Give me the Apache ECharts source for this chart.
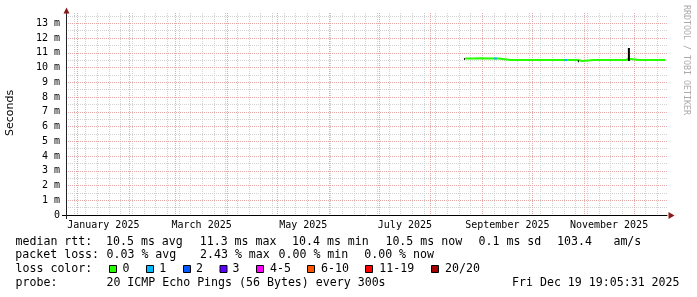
<!DOCTYPE html>
<html><head><meta charset="utf-8">
<script src="https://cdn.jsdelivr.net/npm/echarts@6/dist/echarts.min.js"></script>
<style>html,body{margin:0;padding:0;background:#fff}#c{width:697px;height:297px}</style>
</head><body><div id="c"></div>
<script>
// ---- axis ranges / ticks ----
const xStartStr = '2024-12-25T02:24Z';
const xEndStr = '2025-12-20T19:00Z';
const monthStarts = ['2025-01-01','2025-02-01','2025-03-01','2025-04-01','2025-05-01','2025-06-01',
  '2025-07-01','2025-08-01','2025-09-01','2025-10-01','2025-11-01','2025-12-01'];
const labelDates = ['2025-01-16T12:00Z','2025-03-16T12:00Z','2025-05-16T12:00Z','2025-07-16T12:00Z','2025-09-16T00:00Z','2025-11-16T00:00Z'];
const labelTexts = ['January 2025','March 2025','May 2025','July 2025','September 2025','November 2025'];
const yMax = 13.7;

// ---- median rtt (ms), loss 0 (green) ----
const medianDates = ['2025-08-21T12:00Z','2025-08-26','2025-08-31','2025-09-05','2025-09-10T20:00Z','2025-09-10T23:00Z',
  '2025-09-18','2025-09-26','2025-10-04','2025-10-12','2025-10-20','2025-10-28T06:00Z','2025-10-28T22:00Z',
  '2025-10-30T20:00Z','2025-10-30T23:00Z','2025-11-07','2025-11-15','2025-11-22','2025-11-26T12:00Z','2025-11-26T15:00Z',
  '2025-11-27T18:00Z','2025-11-28T02:00Z','2025-12-04','2025-12-11','2025-12-19T19:00Z'];
const medianValues = [10.62,10.62,10.63,10.62,10.62,10.51,
  10.51,10.51,10.52,10.51,10.51,10.51,10.44,
  10.44,10.51,10.51,10.52,10.51,10.52,10.60,
  10.60,10.51,10.51,10.51,10.51];

// ---- loss 1 (blue) ----
const loss1Dates = ['2025-09-08T02:00Z','2025-09-09T17:00Z','2025-10-01','2025-10-20T07:00Z','2025-10-21T22:00Z'];
const loss1Values = [10.62,10.62,'-',10.51,10.51];

// ---- black marks (start dot, dip, spike) ----
const blackDates = ['2025-08-21T00:00Z','2025-08-21T12:00Z','2025-09-30','2025-10-28T07:00Z','2025-10-28T22:00Z','2025-11-10','2025-11-27T22:00Z','2025-11-27T22:00Z'];
const blackValues = [10.58,10.58,'-',10.42,10.42,'-',10.45,11.33];

// ---- smoke band ----
const smokeDates = ['2025-08-21T12:00Z','2025-09-10T20:00Z','2025-09-10T23:00Z','2025-10-28T06:00Z','2025-10-28T08:00Z','2025-10-30T20:00Z','2025-10-30T23:00Z','2025-12-19T19:00Z'];
const smokeLow  = [10.56,10.56,10.46,10.46,10.40,10.40,10.46,10.46];
const smokeHigh = [10.68,10.68,10.66,10.66,10.60,10.60,10.66,10.66];

// ---- legend ----
const lossLabels = ['0','1','2','3','4-5','6-10','11-19','20/20'];
const lossColors = ['#26ff00','#00b8ff','#0059ff','#5e00ff','#ff00ff','#ff5500','#ff0000','#a00000'];

const T = s => Date.parse(s);
const pairs = (d, v) => d.map((x, i) => [T(x), v[i]]);

const weekly = [];
for (let t = T('2024-12-30'); t <= T(xEndStr); t += 7 * 86400000) weekly.push(t);
const labelMap = {};
labelDates.forEach((d, i) => { labelMap[T(d)] = labelTexts[i]; });

const MONO = '"DejaVu Sans Mono", monospace';
const RED = '#e3a9a9', GREY = '#d2d2d2';
const legendFont = '11.6px ' + MONO;

const txt = (text, x, y, extra) => Object.assign({type: 'text', z: 10, style: Object.assign({
  text, x, y, font: legendFont, fill: '#000', textVerticalAlign: 'middle'}, extra || {})});

const graphic = [
  {type: 'polygon', z: 10, shape: {points: [[63.5, 13.5], [69.5, 13.5], [66.5, 7.5]]}, style: {fill: '#8b1a1a'}},
  {type: 'polygon', z: 10, shape: {points: [[668.5, 212], [668.5, 219], [674.5, 215.5]]}, style: {fill: '#8b1a1a'}},
  {type: 'line', z: 10, shape: {x1: 62, y1: 215.5, x2: 67, y2: 215.5}, style: {stroke: '#000', lineWidth: 1}},
  {type: 'line', z: 10, shape: {x1: 66.5, y1: 215, x2: 66.5, y2: 219}, style: {stroke: '#222', lineWidth: 1}},
  {type: 'text', z: 10, x: 10, y: 113, rotation: Math.PI / 2, style: {text: 'Seconds', font: '11px "DejaVu Sans"', fill: '#000', textAlign: 'center', textVerticalAlign: 'middle'}},
  {type: 'text', z: 10, x: 686, y: 60, rotation: -Math.PI / 2, style: {text: 'RRDTOOL / TOBI OETIKER', font: '8.3px ' + MONO, fill: '#aaaaaa', textAlign: 'center', textVerticalAlign: 'middle'}},
  txt('median rtt:', 15.5, 241.5), txt('10.5 ms avg', 106, 241.5), txt('11.3 ms max', 199.7, 241.5),
  txt('10.4 ms min', 292, 241.5), txt('10.5 ms now', 385.4, 241.5), txt('0.1 ms sd', 478.5, 241.5),
  txt('103.4', 557, 241.5), txt('am/s', 613.4, 241.5),
  txt('packet loss:', 15.3, 255.3), txt('0.03 % avg', 106.5, 255.3), txt('2.43 % max', 200, 255.3),
  txt('0.00 % min', 278.5, 255.3), txt('0.00 % now', 364.2, 255.3),
  txt('loss color:', 15.5, 269),
  txt('probe:', 15.5, 282.5), txt('20 ICMP Echo Pings (56 Bytes) every 300s', 106.4, 282.5),
  txt('Fri Dec 19 19:05:31 2025', 512, 282.5)
];
const boxX = [109, 146, 183, 219.5, 256, 307, 365, 431];
const boxLabelX = [122.5, 159.3, 196, 232.5, 270, 321, 379.3, 445];
lossLabels.forEach((l, i) => {
  graphic.push({type: 'rect', z: 10, shape: {x: boxX[i] + 0.5, y: 265.5, width: 7, height: 7},
    style: {fill: lossColors[i], stroke: '#000', lineWidth: 1}});
  graphic.push(txt(l, boxLabelX[i], 269));
});

// vertical grid line drawn through the x scale, snapped to a pixel column
const vGrid = color => (params, api) => {
  const p = api.coord([api.value(0), 0]);
  const x = Math.floor(p[0]) + 0.5;
  const cs = params.coordSys;
  return {type: 'line', shape: {x1: x, y1: cs.y, x2: x, y2: cs.y + cs.height},
    style: {stroke: color, lineWidth: 1, lineDash: [1, 1]}};
};

const chart = echarts.init(document.getElementById('c'), null, {renderer: 'canvas', width: 697, height: 297});
chart.setOption({
  animation: false,
  backgroundColor: '#ffffff',
  grid: {left: 66, top: 13, width: 601, height: 202, containLabel: false, outerBoundsMode: 'none'},
  xAxis: [
    {type: 'value', min: T(xStartStr), max: T(xEndStr), position: 'bottom', z: 3,
     axisLine: {show: true, onZero: false, lineStyle: {color: '#000', width: 1}},
     axisTick: {show: false},
     axisLabel: {customValues: labelDates.map(T), formatter: v => labelMap[v] || '',
       fontFamily: MONO, fontSize: 10, color: '#000', margin: 5},
     splitLine: {show: false}}
  ],
  yAxis: [
    {type: 'value', min: 0, max: yMax, interval: 1, position: 'left', z: 2,
     axisLine: {show: true, onZero: false, lineStyle: {color: '#222', width: 1}},
     axisTick: {show: false},
     axisLabel: {formatter: v => v === 0 ? '0' : v + ' m', fontFamily: MONO, fontSize: 10, color: '#000', margin: 6, showMaxLabel: false},
     splitLine: {show: true, showMinLine: false, showMaxLine: false, lineStyle: {color: RED, width: 1, type: [1, 1]}}},
    {type: 'value', min: 0, max: yMax, interval: 0.5, position: 'left', z: 1,
     axisLine: {show: false}, axisTick: {show: false}, axisLabel: {show: false},
     splitLine: {show: true, showMinLine: false, showMaxLine: false, lineStyle: {color: GREY, width: 1, type: [1, 1]}}}
  ],
  series: [
    {type: 'custom', name: 'weekGrid', silent: true, z: 1, xAxisIndex: 0, yAxisIndex: 0, clip: false,
     renderItem: vGrid(GREY), data: weekly.map(t => [t, 0])},
    {type: 'custom', name: 'monthGrid', silent: true, z: 2, xAxisIndex: 0, yAxisIndex: 0, clip: false,
     renderItem: vGrid(RED), data: monthStarts.map(d => [T(d), 0])},
    {type: 'line', name: 'smokeLow', stack: 'smoke', xAxisIndex: 0, yAxisIndex: 0, showSymbol: false, z: 3,
     lineStyle: {opacity: 0}, data: pairs(smokeDates, smokeLow)},
    {type: 'line', name: 'smoke', stack: 'smoke', xAxisIndex: 0, yAxisIndex: 0, showSymbol: false, z: 3,
     lineStyle: {opacity: 0}, areaStyle: {color: '#d4d4d4', opacity: 1},
     data: smokeDates.map((d, i) => [T(d), +(smokeHigh[i] - smokeLow[i]).toFixed(3)])},
    {type: 'line', name: '0', xAxisIndex: 0, yAxisIndex: 0, showSymbol: false, z: 4,
     lineStyle: {color: lossColors[0], width: 2}, data: pairs(medianDates, medianValues)},
    {type: 'line', name: '1', xAxisIndex: 0, yAxisIndex: 0, showSymbol: false, z: 5, connectNulls: false,
     lineStyle: {color: lossColors[1], width: 2}, data: pairs(loss1Dates, loss1Values)},
    {type: 'line', name: 'black', xAxisIndex: 0, yAxisIndex: 0, showSymbol: false, z: 5, connectNulls: false,
     lineStyle: {color: '#000', width: 2}, data: pairs(blackDates, blackValues)}
  ],
  graphic: graphic
});
</script>
</body></html>
